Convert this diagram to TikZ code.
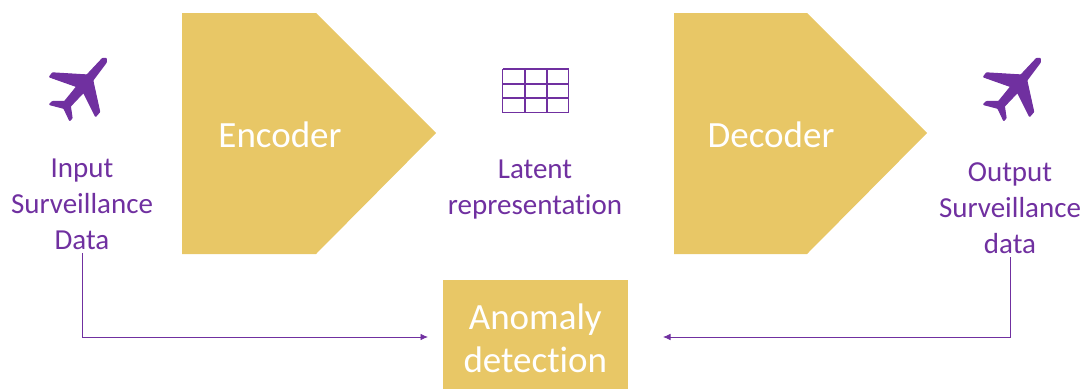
\documentclass[tikz,border=0pt]{standalone}
\usepackage{fontspec}
\setmainfont[Ligatures=CommonOff]{Carlito}
\usetikzlibrary{arrows.meta}
\usetikzlibrary{positioning}
\definecolor{gold}{HTML}{E8C766}
\definecolor{violet}{HTML}{7030A0}
\newcommand{\plane}[1]{%
  \filldraw[violet,line width=1pt,line join=round,rounded corners=0.6pt,shift={(#1)},x=0.345pt,y=-0.345pt]
    (82,-86) -- (71,-86) -- (26,-38) -- (-74,-44) -- (-83,-32) -- (-4,-4) -- (-39,39) -- (-74,39)
    -- (-83,48) -- (-41,59) -- (-24,95) -- (-17,87) -- (-22,53) -- (16,13) -- (51,83) -- (63,69)
    -- (43,-22) -- (82,-74) -- cycle;}

\begin{document}
\begin{tikzpicture}[x=1pt, y=-1pt, node distance=117pt,
                    block text/.style={font=\fontsize{37}{43}\selectfont,text=white},
                    main label/.style={font=\fontsize{29}{36}\selectfont,text=violet,align=center},
                    link/.style={violet,line width=0.8pt,-{Latex[length=7.5pt,width=6.5pt]}}]
  \useasboundingbox (0,0) rectangle (1083,388);

  \coordinate (plane1) at (78,88);
  \coordinate (plane2) at (1012,88);
  \plane{plane1}
  \plane{plane2}

  % blocks
  \fill[gold] (182,13) -- (316,13) -- (436,133) -- (316,254) -- (182,254) -- cycle;
  \fill[gold] (674,13) -- (807,13) -- (927,133) -- (807,254) -- (674,254) -- cycle;
  \node[block text] (encoder) at (280,135) {Encoder};
  \node[block text] (decoder) at (771,135) {Decoder};

  % latent grid
  \foreach \x in {502.5,525,547,568.5}
    \draw[violet,line width=1.6pt] (\x,69) -- (\x,112.5);
  \foreach \y in {69,84,98,112.5}
    \draw[violet,line width=1.6pt] (502.5,\y) -- (568.5,\y);

  \node[main label] (input) [below of=plane1,xshift=4pt,yshift=1pt] {Input\\Surveillance\\Data};
  \node[main label] (latent) at (535,190) {Latent\\representation};
  \node[main label] (output) [below of=plane2,xshift=-2pt,yshift=-3pt] {Output\\Surveillance\\data};

  \node[block text,fill=gold,minimum width=185pt,minimum height=116pt,inner sep=0pt,align=center] (anomaly) at (535.3,338) {Anomaly\\detection};

  \coordinate (in end) at (428,337);
  \coordinate (out end) at (663,337);
  \draw[link] (input.south -| 82,0) -- (82,337) -- (in end);
  \draw[link] (output.south -| 1010,0) -- (1010,337) -- (out end);
\end{tikzpicture}
\end{document}
